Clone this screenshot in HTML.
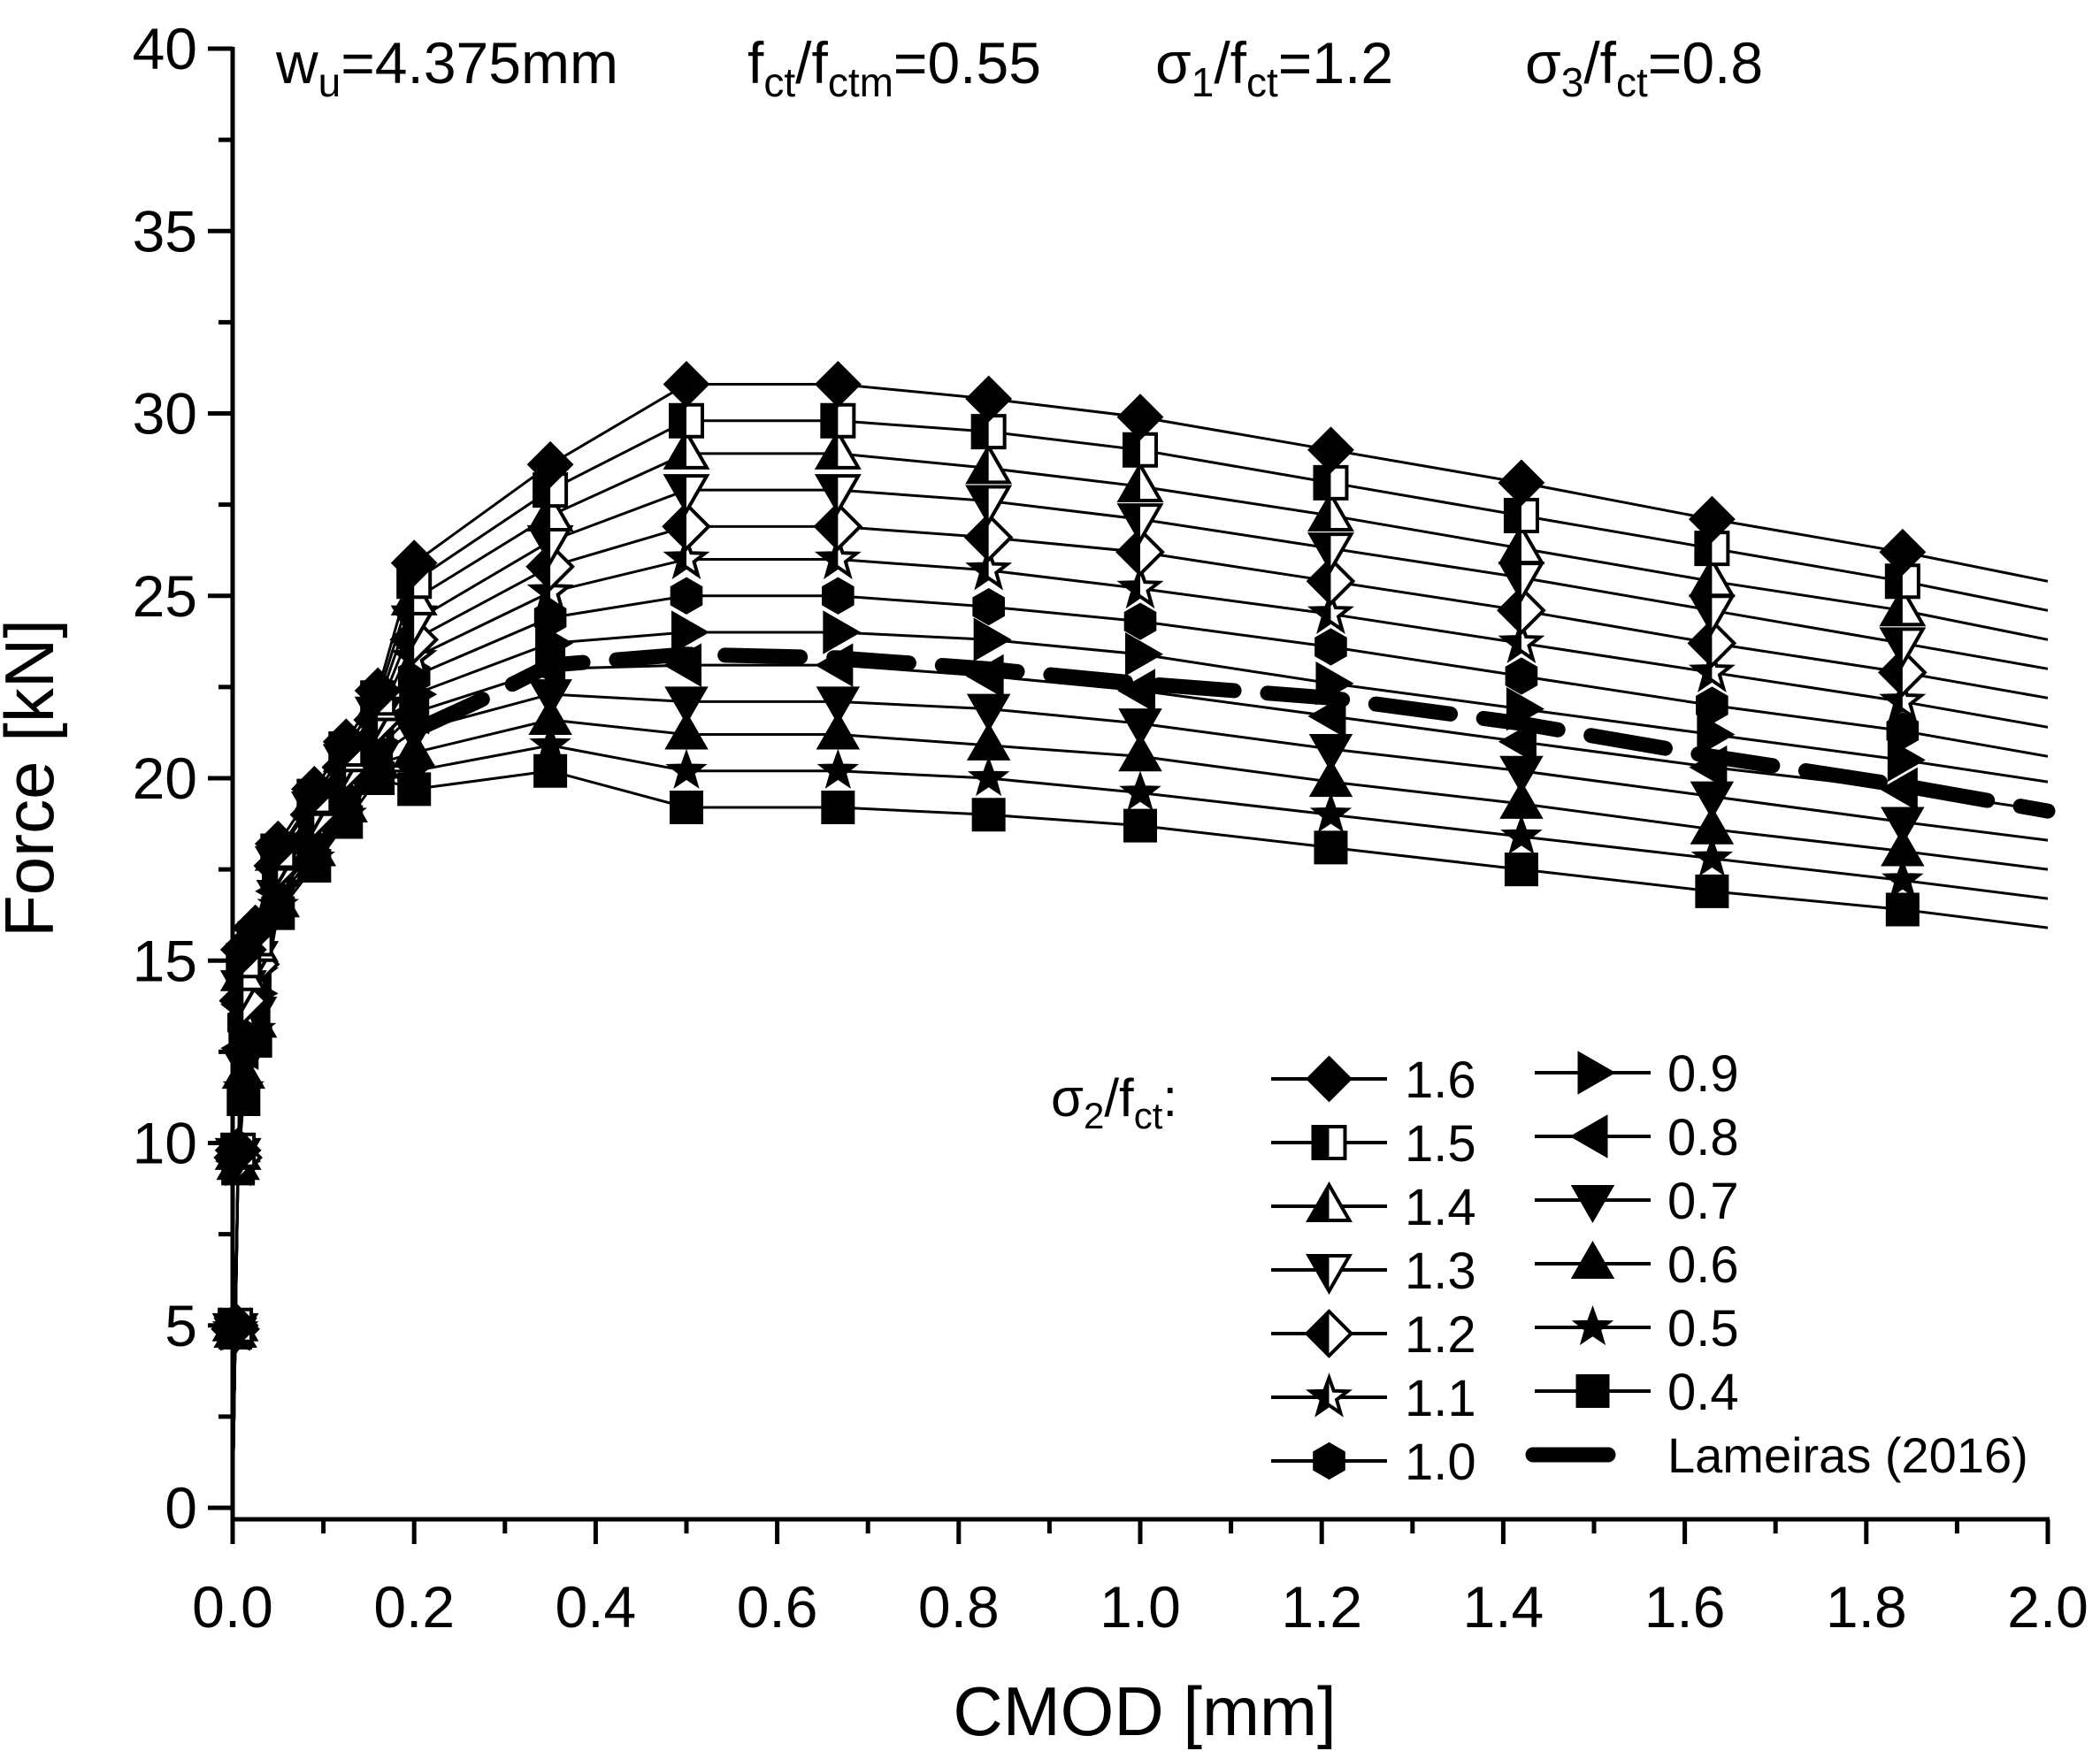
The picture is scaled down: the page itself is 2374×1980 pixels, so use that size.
<!DOCTYPE html>
<html><head><meta charset="utf-8"><style>
html,body{margin:0;padding:0;background:#fff}
svg{display:block}
text{font-family:"Liberation Sans",Arial,sans-serif;fill:#000}
</style></head><body>
<svg id="chart" width="2374" height="1980" viewBox="0 0 2374 1980" xmlns="http://www.w3.org/2000/svg">
<defs>
<clipPath id="lefthalf"><rect x="-40" y="-40" width="40" height="80"/></clipPath>
</defs>
<g id="plot"></g>
<g id="axes"></g>
<g id="legend"></g>
<text transform="translate(60,880) rotate(-90)" text-anchor="middle" font-size="78">Force [kN]</text>
<text x="1294" y="1962" text-anchor="middle" font-size="78">CMOD [mm]</text>
<g font-size="66">
<text x="312" y="94">w<tspan font-size="46" dy="15">u</tspan><tspan dy="-15">=4.375mm</tspan></text>
<text x="845" y="94">f<tspan font-size="46" dy="15">ct</tspan><tspan dy="-15">/f</tspan><tspan font-size="46" dy="15">ctm</tspan><tspan dy="-15">=0.55</tspan></text>
<text x="1306" y="94">σ<tspan font-size="46" dy="15">1</tspan><tspan dy="-15">/f</tspan><tspan font-size="46" dy="15">ct</tspan><tspan dy="-15">=1.2</tspan></text>
<text x="1724" y="94">σ<tspan font-size="46" dy="15">3</tspan><tspan dy="-15">/f</tspan><tspan font-size="46" dy="15">ct</tspan><tspan dy="-15">=0.8</tspan></text>
</g>
<text x="1188" y="1262" font-size="60">σ<tspan font-size="42" dy="14">2</tspan><tspan dy="-14">/f</tspan><tspan font-size="42" dy="14">ct</tspan><tspan dy="-14">:</tspan></text>
</svg>
<script>
const xs = [0,0.003,0.006,0.012,0.025,0.05,0.09,0.125,0.16,0.2,0.35,0.5,0.667,0.833,1.0,1.21,1.42,1.63,1.84,2.0];
const seriesNames = ["1.6","1.5","1.4","1.3","1.2","1.1","1.0","0.9","0.8","0.7","0.6","0.5","0.4"];
const s16 = [0,5.0,9.8,15.3,15.9,18.2,19.7,21.0,22.4,25.9,28.6,30.8,30.8,30.4,29.9,29.0,28.1,27.1,26.2,25.4];
const s15 = [0,5.0,9.8,15.0,15.6,18.0,19.5,20.8,22.2,25.4,27.9,29.8,29.8,29.5,29.0,28.1,27.2,26.3,25.4,24.6];
const s14 = [0,5.0,9.7,14.6,15.4,17.9,19.4,20.6,22.0,24.9,27.2,28.9,28.9,28.5,28.0,27.2,26.3,25.4,24.6,23.8];
const s13 = [0,4.9,9.7,14.3,15.1,17.7,19.2,20.5,21.8,24.3,26.5,27.9,27.9,27.6,27.1,26.3,25.5,24.6,23.7,23.0];
const s12 = [0,4.9,9.6,13.9,14.9,17.6,19.0,20.3,21.6,23.8,25.8,26.9,26.9,26.6,26.2,25.4,24.6,23.7,22.9,22.2];
const s11 = [0,4.9,9.6,13.6,14.6,17.4,18.8,20.1,21.4,23.3,25.1,26.0,26.0,25.7,25.2,24.5,23.7,22.9,22.1,21.4];
const s10 = [0,4.9,9.6,13.3,14.4,17.3,18.7,19.9,21.2,22.8,24.4,25.0,25.0,24.7,24.3,23.6,22.8,22.0,21.3,20.6];
const s09 = [0,4.9,9.5,12.9,14.1,17.1,18.5,19.7,21.0,22.3,23.7,24.0,24.0,23.8,23.4,22.6,21.9,21.2,20.5,19.9];
const s08 = [0,4.9,9.5,12.6,13.8,16.9,18.3,19.5,20.8,21.8,23.0,23.1,23.1,22.8,22.4,21.7,21.0,20.3,19.7,19.1];
const s07 = [0,4.8,9.4,12.2,13.6,16.8,18.1,19.4,20.6,21.3,22.3,22.1,22.1,21.9,21.5,20.8,20.2,19.5,18.8,18.3];
const s06 = [0,4.8,9.4,11.9,13.3,16.6,18.0,19.2,20.4,20.7,21.6,21.2,21.2,20.9,20.6,19.9,19.3,18.6,18.0,17.5];
const s05 = [0,4.8,9.3,11.5,13.1,16.5,17.8,19.0,20.2,20.2,20.9,20.2,20.2,20.0,19.6,19.0,18.4,17.8,17.2,16.7];
const s04 = [0,4.8,9.3,11.2,12.8,16.3,17.6,18.8,20.0,19.7,20.2,19.2,19.2,19.0,18.7,18.1,17.5,16.9,16.4,15.9];
const seriesValues = [s16,s15,s14,s13,s12,s11,s10,s09,s08,s07,s06,s05,s04];
const lamX = [0.2,0.27,0.35,0.5,0.667,0.833,1.0,1.21,1.42,1.63,1.84,2.0];
const lamY = [21.3,22.1,23.1,23.4,23.3,23.0,22.6,22.2,21.5,20.6,19.8,19.1];
const xTicks = ["0.0","0.2","0.4","0.6","0.8","1.0","1.2","1.4","1.6","1.8","2.0"];
const yTicks = ["0","5","10","15","20","25","30","35","40"];

const NS="http://www.w3.org/2000/svg";
const X0=263, X1=2315, Y0=1705, Y40=55, AXY=1718;
function sx(v){return X0+v*(X1-X0)/2;}
function sy(v){return Y0-v*(Y0-Y40)/40;}
function el(tag,attrs,parent){const e=document.createElementNS(NS,tag);for(const k in attrs)e.setAttribute(k,attrs[k]);if(parent)parent.appendChild(e);return e;}

const shapes=["diamond","square","tri-up","tri-down","diamond","star","hexagon","tri-right","tri-left","tri-down","tri-up","star","square"];
const half=[false,true,true,true,true,true,false,false,false,false,false,false,false];
function shapePath(t){
  switch(t){
    case "diamond": return "M0,-25 L25,0 L0,25 L-25,0Z";
    case "square": return "M-18,-18 H18 V18 H-18Z";
    case "tri-up": return "M0,-24 L23,16 L-23,16Z";
    case "tri-down": return "M0,24 L23,-16 L-23,-16Z";
    case "tri-right": return "M24,0 L-16,23 L-16,-23Z";
    case "tri-left": return "M-24,0 L16,23 L16,-23Z";
    case "hexagon": {let p="";for(let i=0;i<6;i++){const a=Math.PI/3*i-Math.PI/2;p+=(i?"L":"M")+(20*Math.cos(a)).toFixed(1)+","+(20*Math.sin(a)).toFixed(1);}return p+"Z";}
    case "star": {let p="";for(let i=0;i<10;i++){const a=Math.PI/5*i-Math.PI/2;const rr=i%2?9:22;p+=(i?"L":"M")+(rr*Math.cos(a)).toFixed(1)+","+(rr*Math.sin(a)).toFixed(1);}return p+"Z";}
  }
}
function drawMarker(parent,idx,cx,cy){
  const g=el("g",{transform:`translate(${cx},${cy})`},parent);
  
  
  const d=shapePath(shapes[idx]);
  if(half[idx]){
    el("path",{d:d,fill:"#fff",stroke:"#000","stroke-width":4},g);
    el("path",{d:d,fill:"#000","clip-path":"url(#lefthalf)"},g);
  } else {
    el("path",{d:d,fill:"#000",stroke:"#000","stroke-width":2},g);
  }
}

const plot=document.getElementById("plot");
seriesValues.forEach((vals,i)=>{
  const pts=vals.map((v,j)=>sx(xs[j]).toFixed(1)+","+sy(v).toFixed(1)).join(" ");
  const pl=el("polyline",{points:pts,fill:"none",stroke:"#000","stroke-width":3},plot);
  
  
});
for(let i=seriesValues.length-1;i>=0;i--){
  const vals=seriesValues[i];
  for(let j=1;j<xs.length-1;j++) drawMarker(plot,i,sx(xs[j]),sy(vals[j]));
}
const lam=el("polyline",{points:lamX.map((v,j)=>sx(v).toFixed(1)+","+sy(lamY[j]).toFixed(1)).join(" "),fill:"none",stroke:"#000","stroke-width":17,"stroke-dasharray":"85 38","stroke-linecap":"round"},plot);



const ax=document.getElementById("axes");
el("line",{x1:X0,y1:Y40-2,x2:X0,y2:AXY+2,stroke:"#000","stroke-width":5},ax);
el("line",{x1:X0-2,y1:AXY,x2:X1+2,y2:AXY,stroke:"#000","stroke-width":5},ax);
yTicks.forEach((lbl,i)=>{
  const v=parseFloat(lbl), y=sy(v);
  el("line",{x1:X0-28,y1:y,x2:X0,y2:y,stroke:"#000","stroke-width":5},ax);
  if(v<40) el("line",{x1:X0-16,y1:sy(v+2.5),x2:X0,y2:sy(v+2.5),stroke:"#000","stroke-width":5},ax);
  const t=el("text",{x:X0-40,y:y+23,"text-anchor":"end","font-size":66},ax);
  t.textContent=lbl;
  
  
});
xTicks.forEach((lbl,i)=>{
  const v=parseFloat(lbl), x=sx(v);
  el("line",{x1:x,y1:AXY,x2:x,y2:AXY+28,stroke:"#000","stroke-width":5},ax);
  if(v<2) el("line",{x1:sx(v+0.1),y1:AXY,x2:sx(v+0.1),y2:AXY+16,stroke:"#000","stroke-width":5},ax);
  const t=el("text",{x:x,y:1840,"text-anchor":"middle","font-size":66},ax);
  t.textContent=lbl;
  
  
});

const lg=document.getElementById("legend");
seriesNames.forEach((name,i)=>{
  const col=i<7?0:1, row=i<7?i:i-7;
  const lx=col?1735:1437, lx2=col?1866:1568, y=(col?1213:1220)+row*72;
  const g=el("g",{},lg);
  
  
  el("line",{x1:lx,y1:y,x2:lx2,y2:y,stroke:"#000","stroke-width":4},g);
  drawMarker(g,i,(lx+lx2)/2,y);
  const t=el("text",{x:col?1885:1588,y:y+21,"font-size":58},g);
  t.textContent=name;
});
const lgl=el("g",{},lg);


el("line",{x1:1733,y1:1645,x2:1818,y2:1645,stroke:"#000","stroke-width":17,"stroke-linecap":"round"},lgl);
const lt=el("text",{x:1885,y:1665,"font-size":56},lgl);
lt.textContent="Lameiras (2016)";
</script>
</body></html>
